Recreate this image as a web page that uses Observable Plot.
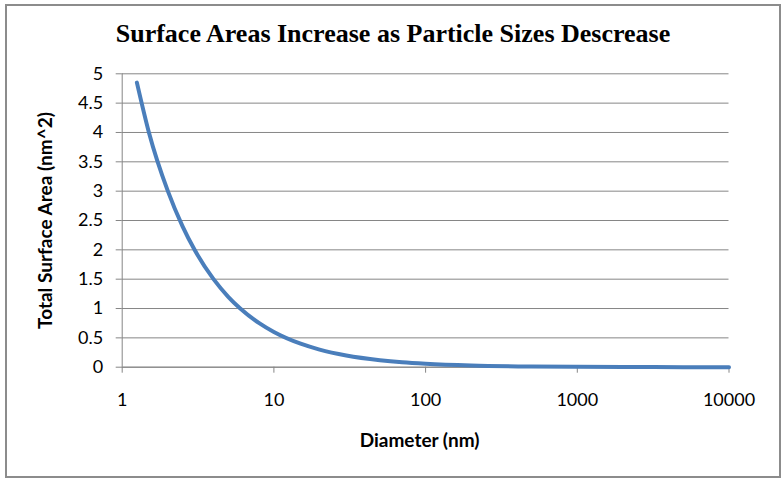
<!DOCTYPE html>
<html>
<head>
<meta charset="utf-8">
<script src="https://cdn.jsdelivr.net/npm/d3@7"></script>
<script src="https://cdn.jsdelivr.net/npm/@observablehq/plot@0.6"></script>
<style>
  html, body { margin: 0; padding: 0; background: #fff; }
  #wrap { position: relative; width: 784px; height: 482px; overflow: hidden; background: #fff; }
  #frame { position: absolute; left: 5px; top: 4px; width: 776px; height: 474px; box-sizing: border-box; border: 2px solid #8c8c8c; pointer-events: none; }
  #title { position: absolute; left: 0; top: 0; width: 784px; height: 55px; text-align: center; }
  #title span { display: inline-block; margin-left: 2px; margin-top: 21px; font-family: "Liberation Serif", serif; font-weight: bold; font-size: 26px; line-height: 26px; color: #000; white-space: nowrap; }
  #chart { position: absolute; left: 0; top: 55px; }
  #chart svg { overflow: visible; }
</style>
</head>
<body>
<div id="wrap">
  <div id="title"><span>Surface Areas Increase as Particle Sizes Descrease</span></div>
  <div id="chart"></div>
  <div id="frame"></div>
</div>
<script>
// Diameter (nm) and total surface area (nm^2)
const diameters = [1.25, 1.5, 2, 2.5, 3, 4, 5, 6, 8, 10, 15, 20, 30, 50, 70, 100, 200, 500, 1000, 2000, 5000, 10000];
const areas = [4.85, 4.0, 3.0, 2.4, 2.0, 1.5, 1.2, 1.0, 0.75, 0.6, 0.4, 0.3, 0.2, 0.12, 0.085, 0.06, 0.03, 0.012, 0.006, 0.003, 0.0012, 0.0006];
const xTicks = [1, 10, 100, 1000, 10000];
const yTicks = [0, 0.5, 1, 1.5, 2, 2.5, 3, 3.5, 4, 4.5, 5];
const xLabel = "Diameter (nm)";
const yLabel = "Total Surface Area (nm^2)";

const data = diameters.map((d, i) => ({d, a: areas[i]}));
const gridColor = "#868686";
const fontFamily = "Lato, 'Liberation Sans', sans-serif";

const chart = Plot.plot({
  width: 784,
  height: 427,
  marginLeft: 121.7,
  marginRight: 55.5,
  marginTop: 18.3,
  marginBottom: 115.3,
  style: {fontFamily, fontSize: "18px", color: "#000", background: "transparent"},
  x: {type: "log", domain: [1, 10000]},
  y: {domain: [0, 5]},
  marks: [
    Plot.gridY(yTicks, {stroke: gridColor, strokeOpacity: 1, strokeWidth: 1}),
    Plot.ruleX([1], {stroke: gridColor, strokeWidth: 1}),
    Plot.ruleY([0], {stroke: gridColor, strokeWidth: 1}),
    Plot.axisY(yTicks, {tickSize: 6, tickPadding: 13, stroke: gridColor, fill: "#000", fontSize: 18, label: null, tickFormat: d => String(d)}),
    Plot.axisX(xTicks, {tickSize: 6, tickPadding: 20, stroke: gridColor, fill: "#000", fontSize: 18, label: null, tickFormat: d => String(d)}),
    Plot.line(data, {x: "d", y: "a", stroke: "#4a7ebb", strokeWidth: 4, curve: "monotone-x", strokeLinecap: "round"}),
    Plot.text([xLabel], {frameAnchor: "bottom", dy: 74, dx: -6, textAnchor: "middle", lineAnchor: "middle", text: d => d, fontWeight: "bold", fontSize: 19, fill: "#000"}),
    Plot.text([yLabel], {frameAnchor: "left", dx: -76, rotate: -90, textAnchor: "middle", lineAnchor: "middle", text: d => d, fontWeight: "bold", fontSize: 19, fill: "#000"})
  ]
});
document.getElementById("chart").appendChild(chart);
</script>
</body>
</html>
